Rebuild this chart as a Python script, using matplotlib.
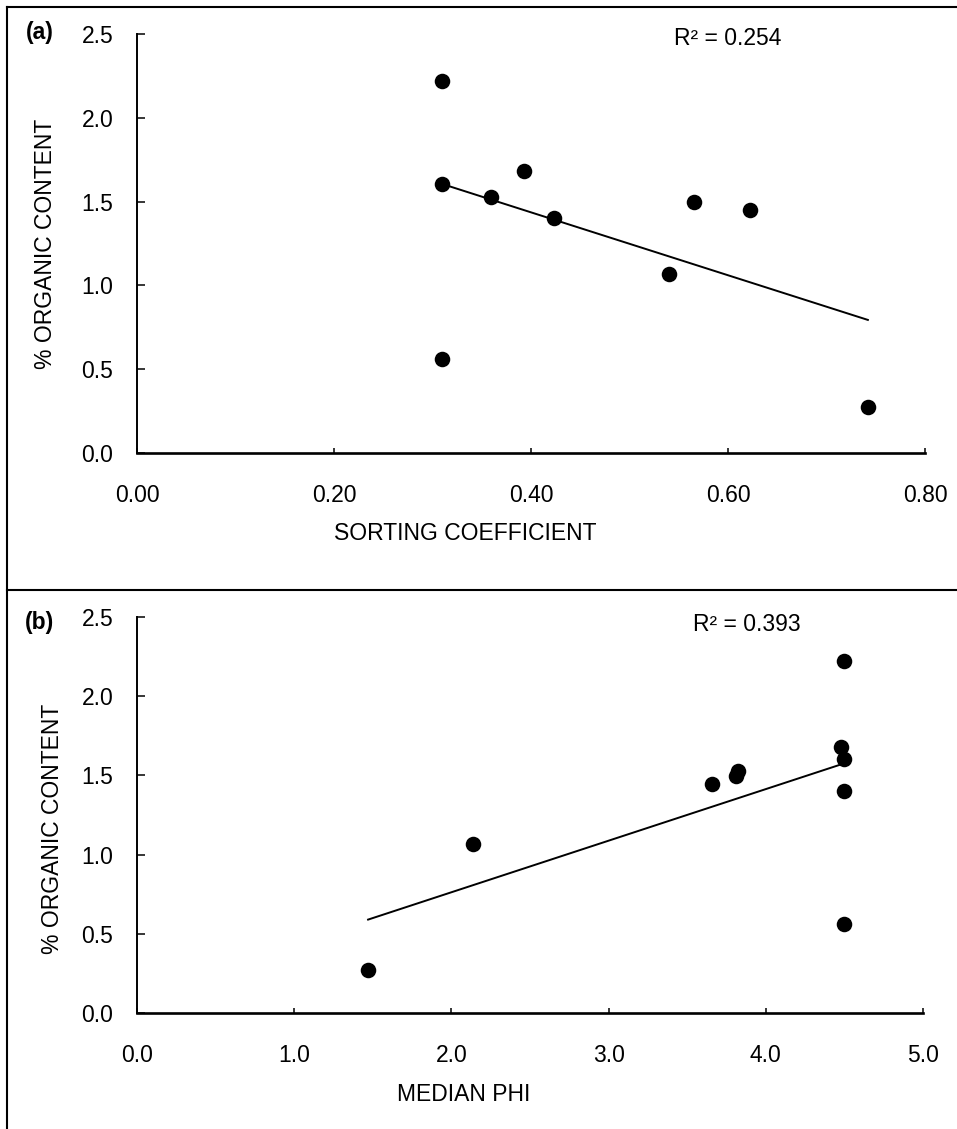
import numpy as np
import matplotlib
matplotlib.use("Agg")
import matplotlib.pyplot as plt
from matplotlib.lines import Line2D

plt.rcParams['font.family'] = ['Liberation Sans', 'DejaVu Sans']

# data
organic = [2.22, 1.605, 0.561, 1.527, 1.682, 1.40, 1.07, 1.497, 1.447, 0.273]
sorting = [0.310, 0.310, 0.310, 0.359, 0.393, 0.423, 0.540, 0.565, 0.622, 0.742]
median_phi = [4.50, 4.50, 4.50, 3.82, 4.48, 4.50, 2.14, 3.81, 3.66, 1.47]

r2_labels = ["R² = 0.254", "R² = 0.393"]
panel_labels = ["(a)", "(b)"]
x_labels = ["SORTING COEFFICIENT", "MEDIAN PHI"]
y_label = "% ORGANIC CONTENT"
x_ticks_a = [0.0, 0.2, 0.4, 0.6, 0.8]
x_ticks_b = [0.0, 1.0, 2.0, 3.0, 4.0, 5.0]
y_ticks = [0.0, 0.5, 1.0, 1.5, 2.0, 2.5]

FS = 16.5
W, H = 957, 1129
fig = plt.figure(figsize=(W / 100, H / 100), dpi=100)


def fx(px):
    return px / W


def fy(py):
    return 1 - py / H


ax_a = fig.add_axes([fx(137), fy(453), fx(925) - fx(137), fy(34) - fy(453)])
ax_b = fig.add_axes([fx(137), fy(1013), fx(923) - fx(137), fy(617) - fy(1013)])

setups = [
    (ax_a, sorting, x_ticks_a, "{:.2f}", (0, 0.8), 0.99, 0.75, -0.1155, 0.5, -0.193),
    (ax_b, median_phi, x_ticks_b, "{:.1f}", (0, 5.0), 0.98, 0.776, -0.108, 0.465, -0.207),
]

for i, (ax, xs, xt, fmt, xlim, r2y, r2x, ylx, yly, xly) in enumerate(setups):
    ax.scatter(xs, organic, s=125, color='black', zorder=3, linewidths=0)
    k, b = np.polyfit(xs, organic, 1)
    xline = np.array([min(xs), max(xs)])
    ax.plot(xline, k * xline + b, color='black', lw=1.4)

    ax.set_xlim(*xlim)
    ax.set_ylim(0, 2.5)
    ax.set_xticks(xt)
    ax.set_xticklabels([fmt.format(v) for v in xt])
    ax.set_yticks(y_ticks)
    ax.set_yticklabels(["{:.1f}".format(v) for v in y_ticks])

    for s in ['top', 'right']:
        ax.spines[s].set_visible(False)
    ax.spines['bottom'].set_linewidth(1.9)
    ax.spines['left'].set_linewidth(1.4)

    ax.tick_params(axis='y', direction='in', length=5.8, width=1.1, pad=17, labelsize=FS)
    ax.tick_params(axis='x', direction='in', length=3.6, width=1.1, pad=22, labelsize=FS)

    ax.set_xlabel(x_labels[i], fontsize=FS, va='center')
    ax.xaxis.set_label_coords(0.416, xly)
    ax.set_ylabel(y_label, fontsize=FS, va='center')
    ax.yaxis.set_label_coords(ylx, yly)

    ax.text(r2x, r2y, r2_labels[i], transform=ax.transAxes, fontsize=FS,
            ha='center', va='center')

fig.text(fx(40), fy(33), panel_labels[0], fontsize=FS, fontweight='bold',
         ha='center', va='center')
fig.text(fx(39), fy(623), panel_labels[1], fontsize=FS, fontweight='bold',
         ha='center', va='center')

# panel borders
for line in [([fx(7), fx(7)], [fy(7), 0]),
             ([fx(7), 1], [fy(7), fy(7)]),
             ([fx(7), 1], [fy(590), fy(590)])]:
    fig.add_artist(Line2D(line[0], line[1], color='black', lw=1.5))

fig.savefig("out.png", dpi=100)
